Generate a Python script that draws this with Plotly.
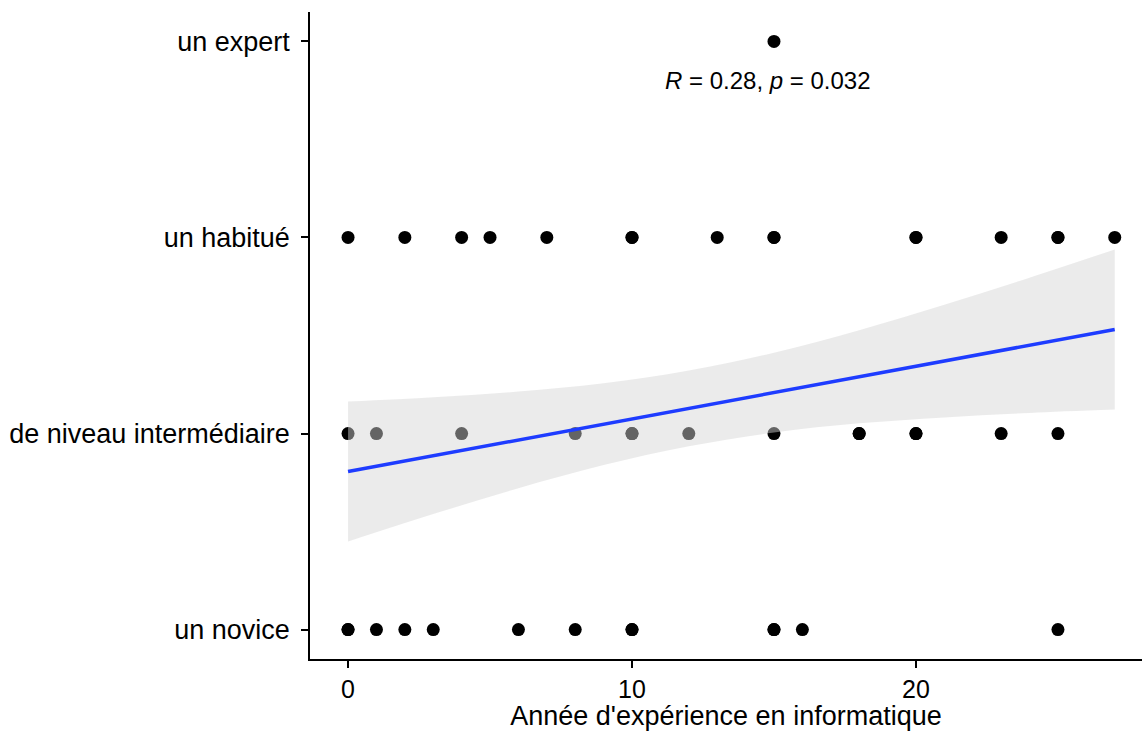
import plotly.graph_objects as go

# Niveau déclaré (1 = novice ... 4 = expert) selon les années d'expérience
niveau_labels = ["un novice", "de niveau intermédiaire", "un habitué", "un expert"]
niveau_vals = [1, 2, 3, 4]

novice_x = [0, 0, 1, 2, 3, 6, 8, 10, 10, 15, 15, 16, 25]
inter_x = [0, 1, 4, 8, 10, 10, 12, 15, 18, 18, 20, 20, 23, 25]
habitue_x = [0, 2, 4, 5, 7, 10, 10, 13, 15, 15, 20, 20, 23, 25, 25, 27]
expert_x = [15]

# Droite de régression et bande de confiance (lm)
fit_x = [0, 27]
fit_y = [1.806, 2.531]
band_x = [0, 3, 6, 9, 12, 15, 18, 21, 24, 27]
band_upper = [2.163, 2.185, 2.214, 2.256, 2.321, 2.412, 2.527, 2.657, 2.795, 2.939]
band_lower = [1.449, 1.589, 1.721, 1.839, 1.935, 2.005, 2.052, 2.082, 2.105, 2.122]

stat_label = "<i>R</i> = 0.28, <i>p</i> = 0.032"

FONT = "Liberation Sans, Arial, sans-serif"

pts_x = novice_x + inter_x + habitue_x + expert_x
pts_y = ([1] * len(novice_x) + [2] * len(inter_x)
         + [3] * len(habitue_x) + [4] * len(expert_x))

fig = go.Figure()
fig.add_trace(go.Scatter(
    x=pts_x, y=pts_y, mode="markers",
    marker=dict(color="black", size=13, line=dict(width=0)),
    hoverinfo="skip", showlegend=False,
))
fig.add_trace(go.Scatter(
    x=band_x, y=band_lower, mode="lines",
    line=dict(width=0, shape="spline"), hoverinfo="skip", showlegend=False,
))
fig.add_trace(go.Scatter(
    x=band_x, y=band_upper, mode="lines", fill="tonexty",
    fillcolor="rgba(213,213,213,0.47)",
    line=dict(width=0, shape="spline"), hoverinfo="skip", showlegend=False,
))
fig.add_trace(go.Scatter(
    x=fit_x, y=fit_y, mode="lines",
    line=dict(color="#1E3CFF", width=3.5), hoverinfo="skip", showlegend=False,
))

fig.add_annotation(
    x=14.8, y=3.8, text=stat_label, showarrow=False,
    font=dict(family=FONT, size=24, color="black"),
)

axis_common = dict(
    showline=True, linecolor="black", linewidth=1.5,
    ticks="outside", ticklen=7, tickwidth=1.5, tickcolor="black",
    showgrid=False, zeroline=False, mirror=False,
)

fig.update_layout(
    width=1142, height=731,
    margin=dict(l=310, r=0, t=12, b=72),
    paper_bgcolor="white", plot_bgcolor="white",
    xaxis=dict(
        range=[-1.34, 27.96], tickvals=[0, 10, 20],
        tickfont=dict(family=FONT, size=25, color="black"),
        title=dict(text="Année d'expérience en informatique", standoff=7,
                   font=dict(family=FONT, size=27, color="black")),
        **axis_common,
    ),
    yaxis=dict(
        range=[0.85, 4.15], tickvals=niveau_vals, ticktext=niveau_labels,
        ticklabelstandoff=6,
        tickfont=dict(family=FONT, size=27, color="black"),
        **axis_common,
    ),
)

fig.write_html("out.html")
